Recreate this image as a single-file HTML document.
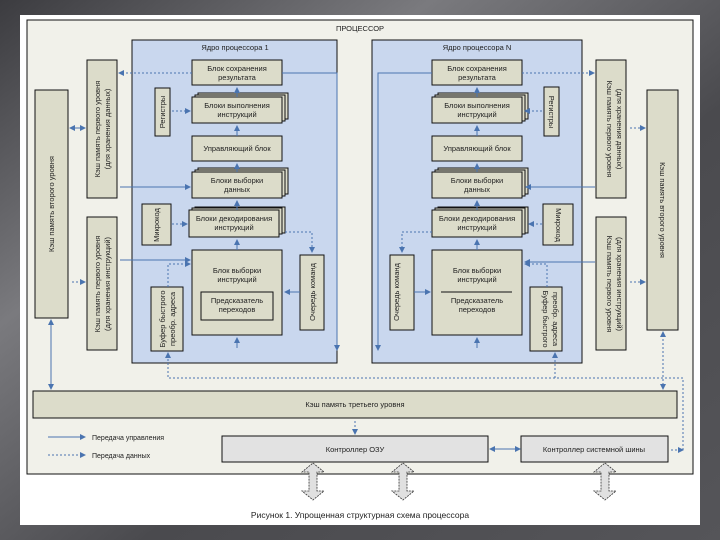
<!DOCTYPE html>
<html><head><meta charset="utf-8"><style>
html,body{margin:0;padding:0;width:720px;height:540px;overflow:hidden;background:#4a4a4e}
svg{display:block}
text{font-family:"Liberation Sans",sans-serif;font-size:7.5px;fill:#222;text-anchor:middle}
</style></head><body>
<svg width="720" height="540" viewBox="0 0 720 540" xmlns="http://www.w3.org/2000/svg">
<defs>
<linearGradient id="bg" x1="0" y1="0" x2="1" y2="1">
<stop offset="0" stop-color="#3c3c40"/><stop offset="0.3" stop-color="#7a7a7e"/><stop offset="0.6" stop-color="#4a4a4e"/><stop offset="1" stop-color="#555559"/></linearGradient>
<marker id="a" markerWidth="6" markerHeight="6" refX="5" refY="3" orient="auto"><path d="M0,0L6,3L0,6z" fill="#4a74b0"/></marker>
</defs>
<rect width="720" height="540" fill="url(#bg)"/>
<rect x="20" y="15" width="680" height="510" fill="#fff"/>
<rect x="27" y="20" width="666" height="454" fill="#f1f1ea" stroke="#111" stroke-width="1"/>
<text x="360" y="31">ПРОЦЕССОР</text>

<rect x="132" y="40" width="205" height="323" fill="#c9d7ee" stroke="#111"/>
<rect x="372" y="40" width="210" height="323" fill="#c9d7ee" stroke="#111"/>
<text x="235" y="50">Ядро процессора 1</text>
<text x="477" y="50">Ядро процессора N</text>

<g fill="#dcdcca" stroke="#111" stroke-width="1">
<rect x="192" y="60" width="90" height="25"/>
<rect x="198" y="93" width="90" height="26"/><rect x="195" y="95" width="90" height="26"/><rect x="192" y="97" width="90" height="26"/>
<rect x="192" y="136" width="90" height="25"/>
<rect x="198" y="168" width="90" height="26"/><rect x="195" y="170" width="90" height="26"/><rect x="192" y="172" width="90" height="26"/>
<rect x="195" y="207" width="90" height="26"/><rect x="192" y="208" width="90" height="26"/><rect x="189" y="210" width="90" height="27"/>
<rect x="192" y="250" width="90" height="85"/>
<rect x="201" y="292" width="72" height="28"/>
<rect x="155" y="88" width="15" height="48"/>
<rect x="142" y="204" width="29" height="41"/>
<rect x="151" y="287" width="32" height="64"/>
<rect x="300" y="255" width="24" height="75"/>
<rect x="432" y="60" width="90" height="25"/>
<rect x="438" y="93" width="90" height="26"/><rect x="435" y="95" width="90" height="26"/><rect x="432" y="97" width="90" height="26"/>
<rect x="432" y="136" width="90" height="25"/>
<rect x="438" y="168" width="90" height="26"/><rect x="435" y="170" width="90" height="26"/><rect x="432" y="172" width="90" height="26"/>
<rect x="438" y="207" width="90" height="26"/><rect x="435" y="208" width="90" height="26"/><rect x="432" y="210" width="90" height="27"/>
<rect x="432" y="250" width="90" height="85"/>
<rect x="544" y="87" width="15" height="49"/>
<rect x="543" y="204" width="30" height="41"/>
<rect x="530" y="287" width="32" height="64"/>
<rect x="390" y="255" width="24" height="75"/>
<rect x="87" y="60" width="30" height="138"/>
<rect x="87" y="217" width="30" height="133"/>
<rect x="35" y="90" width="33" height="228"/>
<rect x="596" y="60" width="30" height="138"/>
<rect x="596" y="217" width="30" height="133"/>
<rect x="647" y="90" width="31" height="240"/>
<rect x="33" y="391" width="644" height="27"/>
</g>
<g fill="#e2e2e2" stroke="#111">
<rect x="222" y="436" width="266" height="26"/>
<rect x="521" y="436" width="147" height="26"/>
</g>
<line x1="441" y1="292" x2="512" y2="292" stroke="#111"/>

<text x="237" y="71">Блок сохранения</text><text x="237" y="80">результата</text>
<text x="237" y="108">Блоки выполнения</text><text x="237" y="117">инструкций</text>
<text x="237" y="151">Управляющий блок</text>
<text x="237" y="183">Блоки выборки</text><text x="237" y="192">данных</text>
<text x="234" y="221">Блоки декодирования</text><text x="234" y="230">инструкций</text>
<text x="237" y="273">Блок выборки</text><text x="237" y="282">инструкций</text>
<text x="237" y="303">Предсказатель</text><text x="237" y="312">переходов</text>
<text x="477" y="71">Блок сохранения</text><text x="477" y="80">результата</text>
<text x="477" y="108">Блоки выполнения</text><text x="477" y="117">инструкций</text>
<text x="477" y="151">Управляющий блок</text>
<text x="477" y="183">Блоки выборки</text><text x="477" y="192">данных</text>
<text x="477" y="221">Блоки декодирования</text><text x="477" y="230">инструкций</text>
<text x="477" y="273">Блок выборки</text><text x="477" y="282">инструкций</text>
<text x="477" y="303">Предсказатель</text><text x="477" y="312">переходов</text>

<text transform="translate(165,112) rotate(-90)">Регистры</text>
<text transform="translate(159,225) rotate(-90)">Микрокод</text>
<text transform="translate(165,319) rotate(-90)">Буфер быстрого</text>
<text transform="translate(175,319) rotate(-90)">преобр. адреса</text>
<text transform="translate(315,292) rotate(-90)">Очередь команд</text>
<text transform="translate(549,112) rotate(90)">Регистры</text>
<text transform="translate(556,225) rotate(90)">Микрокод</text>
<text transform="translate(543,319) rotate(90)">Буфер быстрого</text>
<text transform="translate(553,319) rotate(90)">преобр. адреса</text>
<text transform="translate(399,292) rotate(-90)">Очередь команд</text>
<text transform="translate(100,129) rotate(-90)">Кэш память первого уровня</text>
<text transform="translate(110,129) rotate(-90)">(для хранения данных)</text>
<text transform="translate(100,284) rotate(-90)">Кэш память первого уровня</text>
<text transform="translate(110,284) rotate(-90)">(для хранения инструкций)</text>
<text transform="translate(54,204) rotate(-90)">Кэш память второго уровня</text>
<text transform="translate(607,129) rotate(90)">Кэш память первого уровня</text>
<text transform="translate(617,129) rotate(90)">(для хранения данных)</text>
<text transform="translate(607,284) rotate(90)">Кэш память первого уровня</text>
<text transform="translate(617,284) rotate(90)">(для хранения инструкций)</text>
<text transform="translate(660,210) rotate(90)">Кэш память второго уровня</text>
<text x="355" y="407">Кэш память третьего уровня</text>
<text x="355" y="452">Контроллер ОЗУ</text>
<text x="594" y="452">Контроллер системной шины</text>

<g stroke="#4a74b0" stroke-width="1" fill="none" marker-end="url(#a)">
<line x1="237" y1="97" x2="237" y2="88"/><line x1="237" y1="136" x2="237" y2="126"/>
<line x1="237" y1="172" x2="237" y2="164"/><line x1="237" y1="210" x2="237" y2="201"/>
<line x1="237" y1="250" x2="237" y2="240"/><line x1="237" y1="348" x2="237" y2="338"/>
<line x1="477" y1="97" x2="477" y2="88"/><line x1="477" y1="136" x2="477" y2="126"/>
<line x1="477" y1="172" x2="477" y2="164"/><line x1="477" y1="210" x2="477" y2="201"/>
<line x1="477" y1="250" x2="477" y2="240"/><line x1="477" y1="348" x2="477" y2="338"/>
<polyline points="282,73 337,73 337,350"/><polyline points="432,73 378,73 378,350"/>
<line x1="120" y1="187" x2="190" y2="187"/><line x1="120" y1="260" x2="190" y2="260"/>
<line x1="595" y1="187" x2="526" y2="187"/><line x1="595" y1="262" x2="525" y2="262"/>
<line x1="300" y1="292" x2="285" y2="292"/><line x1="414" y1="292" x2="430" y2="292"/>
<line x1="48" y1="437" x2="85" y2="437"/>
<line x1="520" y1="449" x2="490" y2="449"/><line x1="490" y1="449" x2="520" y2="449"/>
</g>
<g stroke="#4a74b0" stroke-width="1" fill="none" stroke-dasharray="2,2" marker-end="url(#a)">
<line x1="192" y1="73" x2="119" y2="73"/><line x1="522" y1="73" x2="594" y2="73"/>
<line x1="172" y1="111" x2="190" y2="111"/><line x1="542" y1="111" x2="525" y2="111"/>
<line x1="172" y1="224" x2="187" y2="224"/><line x1="542" y1="224" x2="529" y2="224"/>
<polyline points="285,232 312,232 312,252"/><polyline points="432,232 402,232 402,252"/>
<polyline points="168,287 168,264 190,264"/><polyline points="547,287 547,264 525,264"/>
<line x1="72" y1="128" x2="85" y2="128"/><line x1="80" y1="128" x2="70" y2="128"/>
<line x1="72" y1="282" x2="85" y2="282"/>
<line x1="630" y1="128" x2="645" y2="128"/><line x1="630" y1="282" x2="645" y2="282"/>
<line x1="51" y1="325" x2="51" y2="389"/><line x1="51" y1="385" x2="51" y2="320"/>
<line x1="663" y1="335" x2="663" y2="389"/><line x1="663" y1="385" x2="663" y2="332"/>
<polyline points="683,450 683,378 168,378 168,353"/>
<line x1="555" y1="378" x2="555" y2="353"/>
<line x1="671" y1="450" x2="683" y2="450"/>
<line x1="355" y1="421" x2="355" y2="434"/>
<line x1="48" y1="455" x2="85" y2="455"/>
</g>
<text x="92" y="440" style="text-anchor:start;font-size:7px">Передача управления</text>
<text x="92" y="458" style="text-anchor:start;font-size:7px">Передача данных</text>

<g fill="#e0e0e0" stroke="#333" stroke-width="0.8" stroke-dasharray="2,1">
<path d="M313,463 L324,472 L317,472 L317,491 L324,491 L313,500 L302,491 L309,491 L309,472 L302,472 Z"/>
<path d="M403,463 L414,472 L407,472 L407,491 L414,491 L403,500 L392,491 L399,491 L399,472 L392,472 Z"/>
<path d="M605,463 L616,472 L609,472 L609,491 L616,491 L605,500 L594,491 L601,491 L601,472 L594,472 Z"/>
</g>
<text x="360" y="518" style="font-size:8.5px">Рисунок 1. Упрощенная структурная схема процессора</text>
</svg></body></html>
